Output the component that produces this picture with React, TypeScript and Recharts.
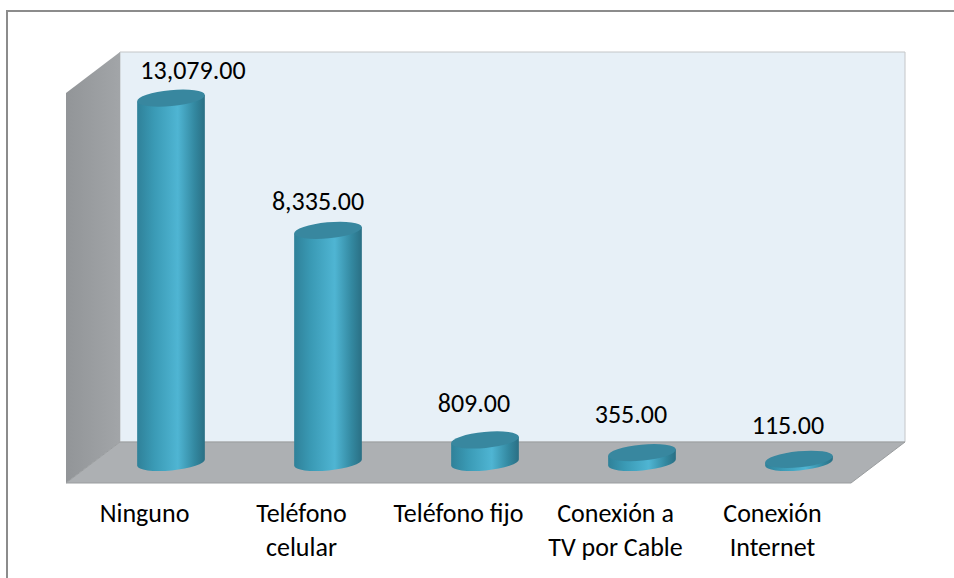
import { Bar, BarChart, Customized, LabelList, XAxis, YAxis } from "recharts";

const categories = ["Ninguno", "Teléfono celular", "Teléfono fijo", "Conexión a TV por Cable", "Conexión Internet"];
const tickLines = [["Ninguno"], ["Teléfono", "celular"], ["Teléfono fijo"], ["Conexión a", "TV por Cable"], ["Conexión", "Internet"]];
const values = [13079, 8335, 809, 355, 115];

const data = categories.map((name, i) => ({ name, value: values[i] }));

// depth of the fake 3D box: bars stand half way back
const DEPTH_X = 54;
const DEPTH_Y = 41;
const RX = 34;
const RY = 8;
const TILT = -5.5;
const DX = RX * Math.cos((TILT * Math.PI) / 180);
const DY = RX * Math.sin((TILT * Math.PI) / 180);

function Walls() {
  const l = 66;
  const r = 851;
  const t = 93;
  const b = 483;
  return (
    <g>
      <defs>
        <linearGradient id="side" x1="0" y1="0" x2="1" y2="0">
          <stop offset="0" stopColor="#929598" />
          <stop offset="1" stopColor="#a2a5a8" />
        </linearGradient>
        <linearGradient id="cyl" x1="0" y1="0" x2="1" y2="0">
          <stop offset="0" stopColor="#2f8199" />
          <stop offset="0.25" stopColor="#3a9ab5" />
          <stop offset="0.6" stopColor="#4fb5d3" />
          <stop offset="0.85" stopColor="#3388a0" />
          <stop offset="1" stopColor="#2a6f84" />
        </linearGradient>
      </defs>
      <polygon
        points={`${l + DEPTH_X},${t - DEPTH_Y} ${r + DEPTH_X},${t - DEPTH_Y} ${r + DEPTH_X},${b - DEPTH_Y} ${l + DEPTH_X},${b - DEPTH_Y}`}
        fill="#e7f0f7"
        stroke="#c4c6c8"
        strokeWidth={1}
      />
      <polygon
        points={`${l},${t} ${l + DEPTH_X},${t - DEPTH_Y} ${l + DEPTH_X},${b - DEPTH_Y} ${l},${b}`}
        fill="url(#side)"
      />
      <polygon
        points={`${l},${b} ${l + DEPTH_X},${b - DEPTH_Y} ${r + DEPTH_X},${b - DEPTH_Y} ${r},${b}`}
        fill="#adb0b3"
        stroke="#9a9d9f"
        strokeWidth={1}
      />
    </g>
  );
}

function Cylinder(props: any) {
  const { x, y, width, height } = props;
  const cx = x + width / 2 + DEPTH_X / 2 - 1;
  const top = y - DEPTH_Y / 2;
  const bottom = y + height - DEPTH_Y / 2;
  const body = `M${cx - DX},${top - DY} L${cx - DX},${bottom - DY} A${RX} ${RY} ${TILT} 0 0 ${cx + DX},${bottom + DY} L${cx + DX},${top + DY} Z`;
  return (
    <g>
      <path d={body} fill="url(#cyl)" />
      <ellipse cx={cx} cy={top} rx={RX} ry={RY} fill="#38879f" transform={`rotate(${TILT} ${cx} ${top})`} />
    </g>
  );
}

// data labels were dragged by hand in the original
const labelNudge = [
  [48, -49],
  [16, -50],
  [15, -57],
  [15, -59],
  [15, -55],
];

function ValueLabel(props: any) {
  const { x, y, width, value, index } = props;
  const [nx, ny] = labelNudge[index];
  return (
    <text
      x={x + width / 2 + nx}
      y={y + ny + 9}
      textAnchor="middle"
      fontFamily="Carlito, Lato, sans-serif"
      fontSize={26}
      fill="#000"
    >
      {value.toLocaleString("en-US", { minimumFractionDigits: 2 })}
    </text>
  );
}

function CategoryTick(props: any) {
  const { x, index } = props;
  return (
    <text textAnchor="middle" fontFamily="Carlito, Lato, sans-serif" fontSize={26} fill="#000">
      {tickLines[index].map((line, i) => (
        <tspan key={line} x={x} y={522 + i * 34}>
          {line}
        </tspan>
      ))}
    </text>
  );
}

export default function App() {
  return (
    <div style={{ position: "absolute", left: 0, top: 0, width: 954, height: 578, background: "#fff", overflow: "hidden" }}>
      <div
        style={{
          position: "absolute",
          left: 6,
          top: 10,
          width: 948,
          height: 568,
          borderLeft: "2px solid #8c8c8c",
          borderTop: "2px solid #8c8c8c",
          boxSizing: "border-box",
        }}
      />
      <BarChart
        width={954}
        height={578}
        data={data}
        margin={{ left: 66, right: 103, top: 93, bottom: 0 }}
        barSize={68}
        style={{ position: "absolute", left: 0, top: 0 }}
      >
        <Customized component={Walls} />
        <XAxis dataKey="name" axisLine={false} tickLine={false} tick={<CategoryTick />} interval={0} height={95} />
        <YAxis hide domain={[0, 14000]} />
        <Bar dataKey="value" shape={<Cylinder />} isAnimationActive={false}>
          <LabelList dataKey="value" content={<ValueLabel />} />
        </Bar>
      </BarChart>
    </div>
  );
}
